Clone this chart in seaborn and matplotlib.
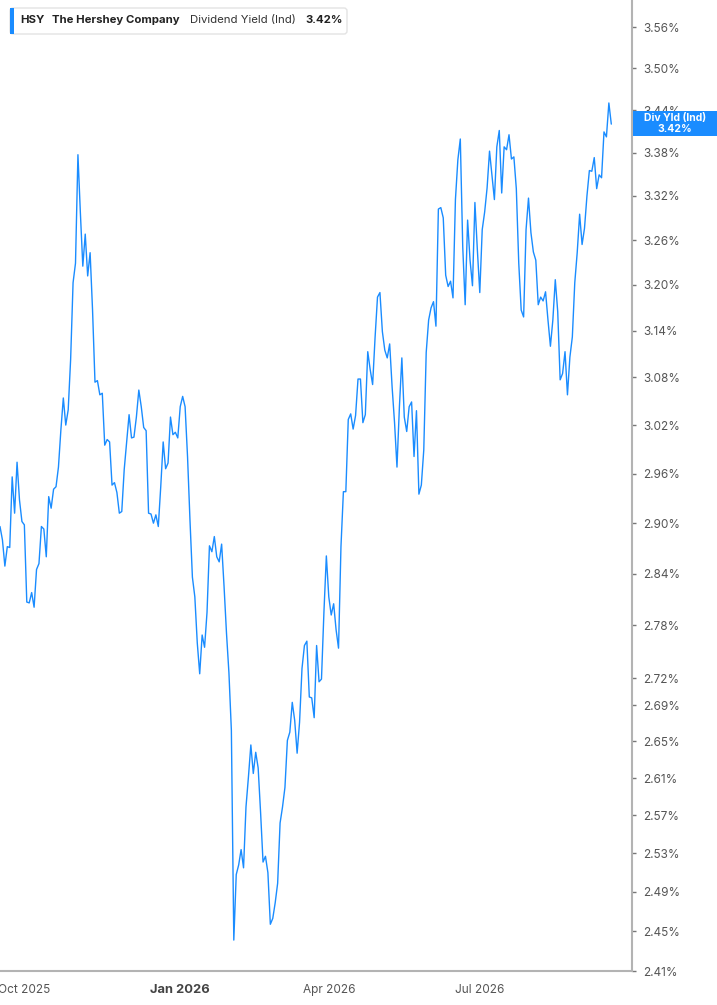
import numpy as np
import pandas as pd
import matplotlib
matplotlib.use("Agg")
import matplotlib.pyplot as plt
import matplotlib.ticker as mticker
from matplotlib.patches import FancyBboxPatch, Rectangle
import seaborn as sns

# ---- data ----
ticker_sym = "HSY"
company = "The Hershey Company"
metric = "Dividend Yield (Ind)"
badge_label = "Div Yld (Ind)"

start_date = "2025-09-17"
market_holidays = ["2025-11-27", "2025-12-25", "2026-01-01", "2026-01-19",
                   "2026-02-16", "2026-04-03", "2026-05-25", "2026-06-19",
                   "2026-07-03", "2026-09-07"]

div_yield = [
    2.896, 2.880, 2.849, 2.872, 2.871, 2.956, 2.912, 2.974, 2.928, 2.902,
    2.898, 2.807, 2.806, 2.818, 2.801, 2.845, 2.852, 2.896, 2.893, 2.860,
    2.932, 2.918, 2.941, 2.944, 2.968, 3.014, 3.054, 3.020, 3.039, 3.103,
    3.203, 3.229, 3.377, 3.297, 3.225, 3.268, 3.212, 3.243, 3.167, 3.074,
    3.076, 3.058, 3.060, 2.995, 3.002, 2.999,
    2.946, 2.949, 2.937, 2.912, 2.914, 2.965, 2.999, 3.033, 3.004, 3.005,
    3.030, 3.064, 3.043, 3.017, 3.013, 2.912, 2.911, 2.900, 2.910, 2.896,
    2.944, 2.999, 2.966, 2.973, 3.030, 3.008, 3.011, 3.004, 3.043, 3.056,
    3.043, 2.981, 2.904, 2.836, 2.813, 2.760, 2.725, 2.769, 2.755, 2.795,
    2.873, 2.866, 2.884, 2.860, 2.854, 2.875, 2.825, 2.771, 2.726,
    2.662, 2.441, 2.508, 2.518, 2.534, 2.515, 2.579, 2.611, 2.646, 2.615,
    2.638, 2.621, 2.573, 2.521, 2.527, 2.510, 2.457, 2.463, 2.479, 2.499,
    2.562, 2.579, 2.600, 2.651, 2.660, 2.693, 2.673, 2.637, 2.671,
    2.731, 2.757, 2.762, 2.699, 2.698, 2.676, 2.757, 2.716, 2.719, 2.795,
    2.861, 2.813, 2.792, 2.805, 2.775, 2.754, 2.872, 2.938, 2.938, 3.027,
    3.034, 3.015, 3.032, 3.078, 3.078, 3.023, 3.033, 3.113, 3.090, 3.071,
    3.131, 3.184, 3.190, 3.139, 3.115, 3.105, 3.123, 3.068, 3.023, 2.968,
    3.043, 3.105, 3.030, 3.012, 3.043,
    3.049, 2.981, 3.038, 2.935, 2.946, 2.989, 3.112, 3.154, 3.170, 3.178,
    3.146, 3.302, 3.304, 3.290, 3.213, 3.198, 3.205, 3.183, 3.315, 3.370,
    3.399, 3.251, 3.174, 3.287, 3.233, 3.199, 3.311, 3.247, 3.190, 3.274,
    3.298, 3.331, 3.382, 3.349, 3.315, 3.388, 3.411, 3.324, 3.388, 3.384,
    3.405, 3.371, 3.374,
    3.330, 3.229, 3.167, 3.158, 3.274, 3.317, 3.270, 3.244, 3.233, 3.174,
    3.184, 3.179, 3.191, 3.154, 3.120, 3.154, 3.207, 3.165, 3.077, 3.085,
    3.113, 3.058, 3.106, 3.132, 3.203, 3.243, 3.295, 3.254, 3.276, 3.320,
    3.355, 3.354, 3.373, 3.330, 3.349, 3.345, 3.409, 3.402, 3.450, 3.420,
]

y_ticks = [2.41, 2.45, 2.49, 2.53, 2.57, 2.61, 2.65, 2.69, 2.72, 2.78, 2.84,
           2.90, 2.96, 3.02, 3.08, 3.14, 3.20, 3.26, 3.32, 3.38, 3.44, 3.50, 3.56]
x_ticks = ["2025-10-01", "2026-01-01", "2026-04-01", "2026-07-01"]
x_tick_labels = ["Oct 2025", "Jan 2026", "Apr 2026", "Jul 2026"]

# trading-day axis: each session is one equal step, no weekend gaps
dates = pd.bdate_range(start_date, periods=len(div_yield), freq="C",
                       holidays=market_holidays)
df = pd.DataFrame({"session": np.arange(len(dates)), "date": dates, "yield": div_yield})
tick_pos = dates.searchsorted(pd.to_datetime(x_ticks))

# ---- styling ----
line_blue = "#1a8cff"
axis_grey = "#b3b3b3"
text_grey = "#555555"

sns.set_style("white")
plt.rcParams["font.family"] = ["Inter", "DejaVu Sans"]

W, H = 717, 1005
fig = plt.figure(figsize=(W / 100, H / 100), dpi=100)
ax = fig.add_axes([0, 34 / H, 632 / W, 1 - 34 / H])

sns.lineplot(data=df, x="session", y="yield", color=line_blue, linewidth=1.0, ax=ax)

ax.set_yscale("log")
ax.set_ylim(2.41, 3.60)
ax.set_xlim(0, len(div_yield) - 1 + 8.5)

ax.yaxis.tick_right()
ax.yaxis.set_major_locator(mticker.FixedLocator(y_ticks))
ax.yaxis.set_major_formatter(mticker.FuncFormatter(lambda v, p: f"{v:.2f}%"))
ax.yaxis.set_minor_locator(mticker.NullLocator())
ax.yaxis.set_minor_formatter(mticker.NullFormatter())

ax.xaxis.set_major_locator(mticker.FixedLocator(tick_pos))
ax.xaxis.set_major_formatter(mticker.FixedFormatter(x_tick_labels))
ax.xaxis.set_minor_locator(mticker.NullLocator())

ax.set_xlabel("")
ax.set_ylabel("")
ax.tick_params(axis="y", direction="out", length=3, width=1, color="#777777",
               labelcolor=text_grey, labelsize=8.5, pad=5)
ax.tick_params(axis="x", direction="out", length=4, width=1, color=axis_grey,
               labelcolor=text_grey, labelsize=8.5, pad=5)
for lbl in ax.get_xticklabels():
    if lbl.get_text().startswith("Jan"):
        lbl.set_fontweight("bold")
        lbl.set_fontsize(9.3)
        lbl.set_color("#444444")

for side in ["top", "left"]:
    ax.spines[side].set_visible(False)
for side in ["right", "bottom"]:
    ax.spines[side].set_color(axis_grey)
    ax.spines[side].set_linewidth(1.5)
ax.grid(False)

# ---- header legend box (figure pixels) ----
box = FancyBboxPatch((10, H - 34), 337, 26, boxstyle="round,pad=0,rounding_size=3",
                     transform=None, fc="white", ec="#e3e3e3", lw=1, zorder=5)
fig.patches.append(box)
bar = Rectangle((10, H - 34), 3.5, 26, transform=None, fc=line_blue, ec="none", zorder=6)
fig.patches.append(bar)

last_txt = f"{div_yield[-1]:.2f}%"
head_y = (H - 20) / H
head_fs = 8.2
fig.text(20 / W, head_y, ticker_sym, fontsize=head_fs, fontweight="bold", color="#222222",
         va="center", zorder=7)
fig.text(52 / W, head_y, company, fontsize=head_fs, fontweight="bold", color="#222222",
         va="center", zorder=7)
fig.text(190 / W, head_y, metric, fontsize=head_fs, color="#333333", va="center", zorder=7)
fig.text(305 / W, head_y, last_txt, fontsize=head_fs, fontweight="bold", color="#222222",
         va="center", zorder=7)

# ---- last-value badge on the axis ----
badge = Rectangle((633, H - 136), 84, 25, transform=None, fc=line_blue, ec="none", zorder=6)
fig.patches.append(badge)
fig.text(675 / W, (H - 118) / H, badge_label, fontsize=7.5, fontweight="bold",
         color="white", ha="center", va="center", zorder=7)
fig.text(675 / W, (H - 129) / H, last_txt, fontsize=7.5, fontweight="bold",
         color="white", ha="center", va="center", zorder=7)

fig.savefig("out.png", dpi=100)
